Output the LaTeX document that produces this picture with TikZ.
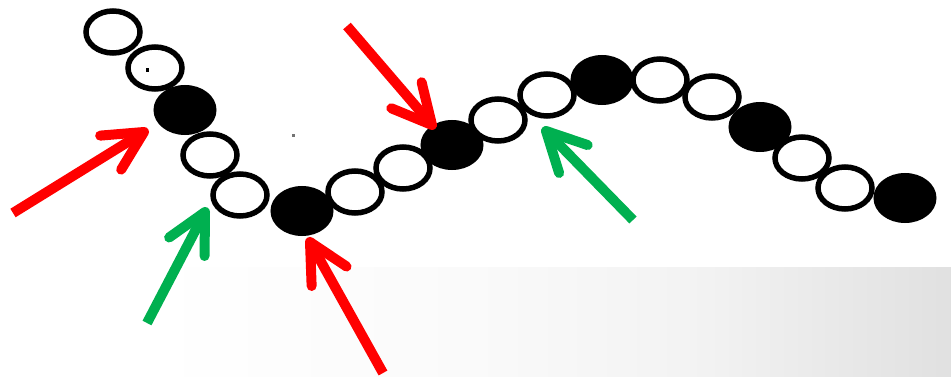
\documentclass[tikz,border=0pt]{standalone}
\usetikzlibrary{shapes.geometric,calc,shadings}
\definecolor{arrred}{RGB}{255,0,0}
\definecolor{arrgreen}{RGB}{0,176,80}
\pgfdeclarehorizontalshading{slidebg}{100bp}{color(0bp)=(white); color(25bp)=(white);
  color(33bp)=(white); color(50bp)=(black!2); color(62bp)=(black!5); color(75bp)=(black!12); color(100bp)=(black!12)}
\tikzset{
  wbead/.style={ellipse, draw=black, line width=5.5pt, inner sep=0pt,
    minimum width=54pt, minimum height=42pt},
  bbead/.style={ellipse, draw=black, fill=black, line width=5pt, inner sep=0pt,
    minimum width=58pt, minimum height=45pt},
  shaft/.style={line width=10pt, line cap=butt},
  barb/.style={line width=10pt, line cap=round, line join=round},
}
\newcommand{\pointer}[3]{% colour, tail, tip
  \draw[shaft,#1] (#2) -- (#3);
  \draw[barb,#1] ($(#3)!44pt!27:(#2)$) -- (#3) -- ($(#3)!44pt!-27:(#2)$);
}
\begin{document}
\begin{tikzpicture}[x=1pt,y=-1pt]
\useasboundingbox (0,0) rectangle (951,377);
% slide background with gradient
\shade[shading=slidebg] (0,0) rectangle (951,377);
\fill[white] (0,0) rectangle (951,267);
% beads
\node[wbead] (b1) at (113,32) {};
\node[wbead] (b2) at (155,68) {};
\node[bbead] (b3) at (185,110) {};
\node[wbead] (b4) at (210,155) {};
\node[wbead] (b5) at (240,195) {};
\node[bbead] (b6) at (302,211) {};
\node[wbead] (b7) at (355,192) {};
\node[wbead] (b8) at (403,168) {};
\node[bbead] (b9) at (452,145) {};
\node[wbead] (b10) at (498,120) {};
\node[wbead] (b11) at (547,95) {};
\node[bbead] (b12) at (602,80) {};
\node[wbead] (b13) at (660,80) {};
\node[wbead] (b14) at (712,97) {};
\node[bbead] (b15) at (760,127) {};
\node[wbead] (b16) at (802,158) {};
\node[wbead] (b17) at (845,188) {};
\node[bbead] (b18) at (905,198) {};
% specks
\fill[black] (145.5,68.5) rectangle (149,72);
\fill[black!55] (292,134) rectangle (295,137);
% arrow coordinates
\coordinate (r1t) at (13,213);  \coordinate (r1h) at (144,132);
\coordinate (r2t) at (347,26);  \coordinate (r2h) at (432,125);
\coordinate (r3t) at (383,373); \coordinate (r3h) at (310,242);
\coordinate (g1t) at (147,323); \coordinate (g1h) at (205,212);
\coordinate (g2t) at (633,220); \coordinate (g2h) at (546,131);
\pointer{arrred}{r1t}{r1h}
\pointer{arrred}{r2t}{r2h}
\pointer{arrred}{r3t}{r3h}
\pointer{arrgreen}{g1t}{g1h}
\pointer{arrgreen}{g2t}{g2h}
\end{tikzpicture}
\end{document}
